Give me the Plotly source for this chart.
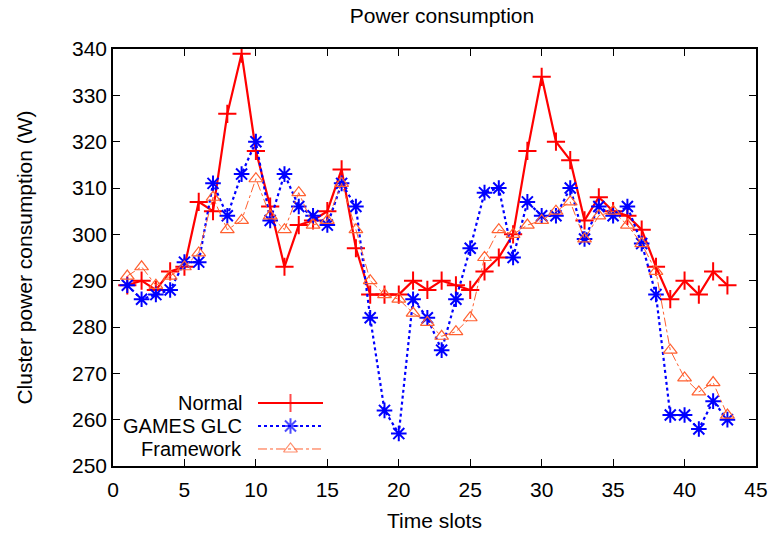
import plotly.graph_objects as go

# Time slots and power readings (W) for the three configurations
slots = list(range(1, 44))
normal = [289, 290, 288, 292, 293, 307, 305, 326, 339, 318, 306, 293, 302, 303, 305,
          314, 297, 287, 287, 287, 290, 288, 290, 289, 288, 292, 295, 300, 318, 334,
          320, 316, 303, 308, 305, 304, 301, 293, 286, 290, 287, 292, 289]
games_glc = [289, 286, 287, 288, 294, 294, 311, 304, 313, 320, 303, 313, 306, 304, 302,
             311, 306, 282, 262, 257, 286, 282, 275, 286, 297, 309, 310, 295, 307, 304,
             304, 310, 299, 306, 304, 306, 298, 287, 261, 261, 258, 264, 260]
framework = [291, 293, 289, 291, 293, 296, 308, 301, 303, 312, 304, 301, 309, 302, 303,
             311, 301, 290, 287, 286, 283, 281, 278, 279, 282, 295, 301, 300, 302, 303,
             305, 307, 299, 304, 305, 302, 298, 292, 275, 269, 266, 268, 261]

series_names = ["Normal", "GAMES GLC", "Framework"]
x_ticks = list(range(0, 50, 5))
y_ticks = list(range(250, 350, 10))

FONT = "Liberation Sans, Arial, Helvetica, sans-serif"
FS = 21
RED = "#FF0000"
BLUE = "#0000FF"
ORANGE = "#FF6030"

styles = [
    dict(line=dict(color=RED, width=2.2, dash="solid"),
         marker=dict(symbol="cross-thin", size=13, color=RED,
                     line=dict(color=RED, width=2))),
    dict(line=dict(color=BLUE, width=2.2, dash="dot"),
         marker=dict(symbol="asterisk", size=13, color=BLUE,
                     line=dict(color=BLUE, width=2))),
    dict(line=dict(color=ORANGE, width=1, dash="dashdot"),
         marker=dict(symbol="triangle-up-open", size=12, color=ORANGE,
                     line=dict(color=ORANGE, width=1.2))),
]

fig = go.Figure()
for name, vals, st in zip(series_names, [normal, games_glc, framework], styles):
    fig.add_trace(go.Scatter(x=slots, y=vals, mode="lines+markers", name=name,
                             showlegend=False, **st))

# Key in the lower-left corner: label on the left, line sample on the right
key_rows = [0.1511, 0.0959, 0.0408]
x0, x1 = 0.2255, 0.3266
for name, yk, st in zip(series_names, key_rows, styles):
    fig.add_trace(go.Scatter(x=[x0, (x0 + x1) / 2, x1], y=[yk, yk, yk],
                             mode="lines+markers", xaxis="x2", yaxis="y2",
                             showlegend=False, hoverinfo="skip",
                             line=st["line"],
                             marker=dict(st["marker"], size=[0, st["marker"]["size"], 0])))
    fig.add_annotation(x=0.2037, y=yk, xref="x2", yref="y2", text=name,
                       showarrow=False, xanchor="right", yanchor="middle",
                       font=dict(family=FONT, size=20, color="black"))

axis_common = dict(showline=True, linecolor="black", linewidth=1.5, mirror="ticks",
                   ticks="inside", ticklen=7, tickwidth=1, tickcolor="black",
                   showgrid=False, zeroline=False, automargin=False,
                   tickfont=dict(family=FONT, size=FS, color="black"))

fig.update_layout(
    width=772, height=536,
    margin=dict(l=113, r=16, t=49, b=70),
    plot_bgcolor="white", paper_bgcolor="white",
    title=dict(text="Power consumption", x=0.5725, xanchor="center", y=0.971,
               yanchor="middle", font=dict(family=FONT, size=FS, color="black")),
    xaxis=dict(range=[0, 45], tickvals=x_ticks, ticklabelstandoff=4,
               title=dict(text="Time slots", font=dict(family=FONT, size=FS, color="black"),
                          standoff=13), **axis_common),
    yaxis=dict(range=[250, 340], tickvals=y_ticks,
               title=dict(text="Cluster power consumption (W)",
                          font=dict(family=FONT, size=FS, color="black"), standoff=34),
               **axis_common),
    xaxis2=dict(range=[0, 1], overlaying="x", visible=False),
    yaxis2=dict(range=[0, 1], overlaying="y", visible=False),
)

fig.write_html("out.html")
